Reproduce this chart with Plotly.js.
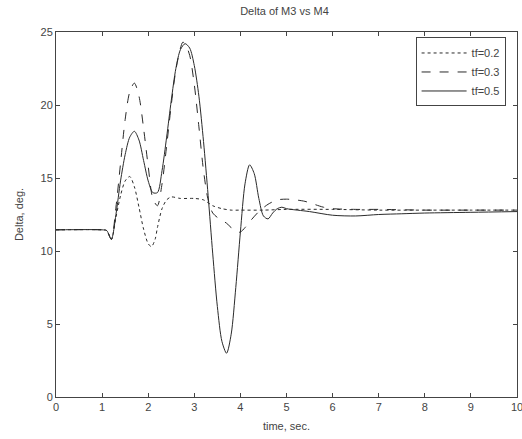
<!DOCTYPE html>
<html>
<head>
<meta charset="utf-8">
<script src="https://cdn.plot.ly/plotly-3.0.1.min.js"></script>
<style>html,body{margin:0;padding:0;background:#fff;}#chart{width:522px;height:439px;}</style>
</head>
<body>
<div id="chart"></div>
<script>
// tf = 0.2 (dotted)
const t02 = [0, 1.0, 1.1, 1.2, 1.3, 1.4, 1.5, 1.6, 1.7, 1.8, 1.9, 2.0, 2.07, 2.15, 2.2, 2.3, 2.4, 2.5, 2.7, 3.0, 3.2, 3.4, 3.6, 3.8, 4.0, 4.5, 5, 6, 7, 8, 9, 10];
const d02 = [11.45, 11.45, 11.4, 10.8, 12.3, 13.8, 14.8, 15.1, 14.4, 13.0, 11.5, 10.5, 10.3, 10.8, 11.6, 12.9, 13.5, 13.7, 13.6, 13.6, 13.5, 13.1, 12.9, 12.8, 12.8, 12.8, 12.85, 12.85, 12.8, 12.8, 12.8, 12.8];
// tf = 0.3 (dashed)
const t03 = [0, 1.0, 1.1, 1.2, 1.3, 1.4, 1.5, 1.6, 1.7, 1.8, 1.9, 2.0, 2.1, 2.2, 2.3, 2.4, 2.5, 2.6, 2.7, 2.75, 2.8, 2.9, 3.0, 3.1, 3.2, 3.3, 3.4, 3.5, 3.6, 3.7, 3.8, 3.9, 4.0, 4.1, 4.2, 4.4, 4.6, 4.8, 5.0, 5.2, 5.4, 5.6, 5.8, 6.0, 6.5, 7, 8, 9, 10];
const d03 = [11.45, 11.45, 11.4, 10.8, 13.0, 16.0, 19.0, 20.9, 21.5, 20.6, 18.4, 15.8, 13.6, 13.1, 14.6, 17.2, 20.0, 22.4, 23.9, 24.3, 24.2, 23.4, 21.4, 18.5, 15.5, 13.5, 12.6, 12.3, 12.1, 11.9, 11.6, 11.3, 11.3, 11.6, 12.0, 12.7, 13.2, 13.5, 13.55, 13.5, 13.4, 13.2, 13.0, 12.9, 12.85, 12.85, 12.8, 12.8, 12.8];
// tf = 0.5 (solid)
const t05 = [0, 1.0, 1.1, 1.2, 1.3, 1.4, 1.5, 1.6, 1.7, 1.8, 1.9, 2.0, 2.1, 2.2, 2.3, 2.4, 2.5, 2.6, 2.7, 2.8, 2.9, 3.0, 3.1, 3.2, 3.3, 3.4, 3.5, 3.6, 3.7, 3.8, 3.9, 4.0, 4.1, 4.2, 4.3, 4.4, 4.5, 4.6, 4.7, 4.8, 4.9, 5.0, 5.5, 6.0, 6.5, 7.0, 7.5, 8.0, 9.0, 10];
const d05 = [11.45, 11.45, 11.4, 10.8, 12.5, 14.8, 16.6, 17.8, 18.2, 17.6, 16.2, 14.8, 14.0, 14.0, 15.5, 17.8, 20.3, 22.5, 23.8, 24.2, 23.9, 22.7, 20.6, 17.5, 13.8, 9.8, 6.2, 3.8, 3.0, 4.3, 7.5, 11.3, 14.6, 15.9, 15.3, 13.6, 12.4, 12.2, 12.6, 12.9, 13.0, 12.9, 12.7, 12.45, 12.4, 12.5, 12.55, 12.6, 12.65, 12.7];

const names = ['tf=0.2', 'tf=0.3', 'tf=0.5'];
const xTicks = [0, 1, 2, 3, 4, 5, 6, 7, 8, 9, 10];
const yTicks = [0, 5, 10, 15, 20, 25];

const lc = '#2a2a2a';
const traces = [
  {x: t02, y: d02, name: names[0], mode: 'lines', line: {color: lc, width: 1, dash: 'dot', shape: 'spline', smoothing: 0.8}},
  {x: t03, y: d03, name: names[1], mode: 'lines', line: {color: lc, width: 1, dash: 'dash', shape: 'spline', smoothing: 0.8}},
  {x: t05, y: d05, name: names[2], mode: 'lines', line: {color: lc, width: 1, dash: 'solid', shape: 'spline', smoothing: 0.8}}
];

const axBase = {
  showline: true, linecolor: '#444', linewidth: 1, mirror: 'ticks',
  ticks: 'inside', ticklen: 4, tickcolor: '#444', showgrid: false, zeroline: false,
  ticklabeloverflow: 'allow',
  tickfont: {family: 'Liberation Sans, Arial, sans-serif', size: 11, color: '#444'}
};

const layout = {
  width: 522, height: 439,
  margin: {l: 56, r: 5, t: 32, b: 42},
  paper_bgcolor: '#fff', plot_bgcolor: '#fff',
  font: {family: 'Liberation Sans, Arial, sans-serif', size: 11, color: '#444'},
  title: {text: 'Delta of M3 vs M4', x: 0.545, xanchor: 'center', y: 0.975, yanchor: 'middle',
          font: {size: 11, color: '#444'}},
  xaxis: Object.assign({}, axBase, {range: [0, 10], tickvals: xTicks, ticktext: xTicks.map(String),
          title: {text: 'time, sec.', standoff: 10, font: {size: 11, color: '#444'}}}),
  yaxis: Object.assign({}, axBase, {range: [0, 25], tickvals: yTicks, ticktext: yTicks.map(String),
          title: {text: 'Delta, deg.', standoff: 14, font: {size: 11, color: '#444'}}}),
  showlegend: true,
  legend: {x: 0.78, y: 0.985, xanchor: 'left', yanchor: 'top', bgcolor: '#fff',
           bordercolor: '#444', borderwidth: 1, font: {size: 11, color: '#444'},
           tracegroupgap: 0, itemwidth: 45}
};

Plotly.newPlot('chart', traces, layout, {displayModeBar: false, staticPlot: true});
</script>
</body>
</html>
